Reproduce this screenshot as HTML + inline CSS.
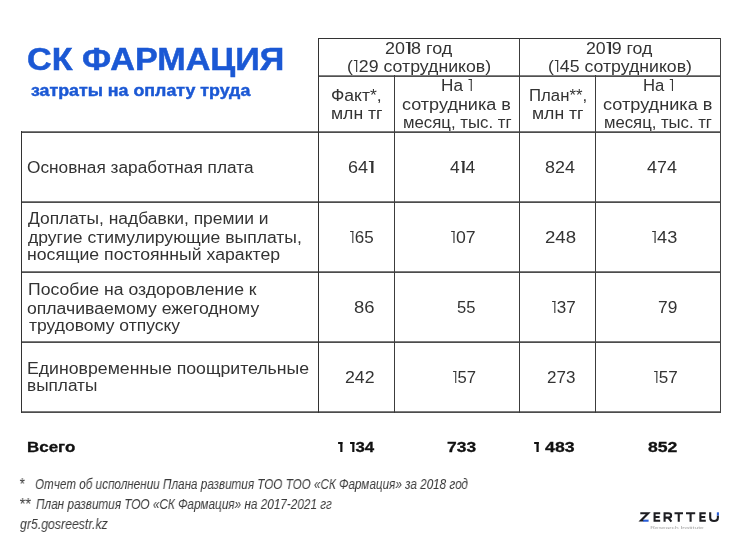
<!DOCTYPE html>
<html><head><meta charset="utf-8"><style>
html,body{margin:0;padding:0;background:#fff;width:740px;height:555px;overflow:hidden}
body{position:relative;font-family:"Liberation Sans",sans-serif}
.ln{position:absolute;background:#2b2b2b}
.t{position:absolute;white-space:pre;line-height:1;transform-origin:0 0;will-change:transform}
.logo{position:absolute;left:640px;top:510px;width:80px;height:22px}
</style></head><body>
<div class="ln" style="left:318px;top:38px;width:403px;height:1px;background:#333"></div><div class="ln" style="left:318px;top:75px;width:403px;height:1px;background:#808080"></div><div class="ln" style="left:318px;top:76px;width:403px;height:1px;background:#505050"></div><div class="ln" style="left:21px;top:131px;width:700px;height:1px;background:#7c7c7c"></div><div class="ln" style="left:21px;top:132px;width:700px;height:1px;background:#4c4c4c"></div><div class="ln" style="left:21px;top:201px;width:700px;height:1px;background:#7c7c7c"></div><div class="ln" style="left:21px;top:202px;width:700px;height:1px;background:#4c4c4c"></div><div class="ln" style="left:21px;top:271px;width:700px;height:1px;background:#7c7c7c"></div><div class="ln" style="left:21px;top:272px;width:700px;height:1px;background:#4c4c4c"></div><div class="ln" style="left:21px;top:341px;width:700px;height:1px;background:#7c7c7c"></div><div class="ln" style="left:21px;top:342px;width:700px;height:1px;background:#4c4c4c"></div><div class="ln" style="left:21px;top:411px;width:700px;height:1px;background:#7c7c7c"></div><div class="ln" style="left:21px;top:412px;width:700px;height:1px;background:#4c4c4c"></div><div class="ln" style="left:21px;top:131px;width:1px;height:282px;background:#333"></div><div class="ln" style="left:318px;top:38px;width:1px;height:375px;background:#333"></div><div class="ln" style="left:394px;top:75px;width:1px;height:338px;background:#3c3c3c"></div><div class="ln" style="left:519px;top:38px;width:1px;height:375px;background:#3c3c3c"></div><div class="ln" style="left:595px;top:75px;width:1px;height:338px;background:#3c3c3c"></div><div class="ln" style="left:720px;top:38px;width:1px;height:375px;background:#444"></div>
<div class="t" style="left:26.92px;top:43.50px;font-size:31.5px;font-weight:700;font-style:normal;color:#1b58d4;transform:scaleX(1.0838);-webkit-text-stroke:0.5px currentColor;">СК ФАРМАЦИЯ</div><div class="t" style="left:30.50px;top:81.80px;font-size:16.2px;font-weight:700;font-style:normal;color:#1b58d4;transform:scaleX(1.0995);-webkit-text-stroke:0.45px currentColor;">затраты на оплату труда</div><div class="t" style="left:384.85px;top:41.20px;font-size:15.6px;font-weight:400;font-style:normal;color:#333333;transform:scaleX(1.1509);">20<span style="display:inline-block;position:relative;width:5.25px;height:12px"><i style="position:absolute;left:1.07px;top:0;width:3.10px;height:1.2px;background:currentColor"></i><i style="position:absolute;left:2.67px;top:0;width:1.5px;height:12px;background:currentColor"></i></span>8 год</div><div class="t" style="left:346.86px;top:58.80px;font-size:15.6px;font-weight:400;font-style:normal;color:#333333;transform:scaleX(1.1360);">(<span style="display:inline-block;position:relative;width:5.25px;height:12px"><i style="position:absolute;left:1.07px;top:0;width:3.10px;height:1.2px;background:currentColor"></i><i style="position:absolute;left:2.67px;top:0;width:1.5px;height:12px;background:currentColor"></i></span>29 сотрудников)</div><div class="t" style="left:586.46px;top:41.20px;font-size:15.6px;font-weight:400;font-style:normal;color:#333333;transform:scaleX(1.1368);">20<span style="display:inline-block;position:relative;width:5.25px;height:12px"><i style="position:absolute;left:1.07px;top:0;width:3.10px;height:1.2px;background:currentColor"></i><i style="position:absolute;left:2.67px;top:0;width:1.5px;height:12px;background:currentColor"></i></span>9 год</div><div class="t" style="left:547.87px;top:58.80px;font-size:15.6px;font-weight:400;font-style:normal;color:#333333;transform:scaleX(1.1344);">(<span style="display:inline-block;position:relative;width:5.25px;height:12px"><i style="position:absolute;left:1.07px;top:0;width:3.10px;height:1.2px;background:currentColor"></i><i style="position:absolute;left:2.67px;top:0;width:1.5px;height:12px;background:currentColor"></i></span>45 сотрудников)</div><div class="t" style="left:331.07px;top:87.60px;font-size:15.6px;font-weight:400;font-style:normal;color:#333333;transform:scaleX(1.1256);">Факт*,</div><div class="t" style="left:330.57px;top:106.00px;font-size:15.6px;font-weight:400;font-style:normal;color:#333333;transform:scaleX(1.1295);">млн тг</div><div class="t" style="left:441.10px;top:77.90px;font-size:15.6px;font-weight:400;font-style:normal;color:#333333;transform:scaleX(1.1000);">На <span style="display:inline-block;position:relative;width:5.25px;height:12px"><i style="position:absolute;left:1.07px;top:0;width:3.10px;height:1.2px;background:currentColor"></i><i style="position:absolute;left:2.67px;top:0;width:1.5px;height:12px;background:currentColor"></i></span></div><div class="t" style="left:402.04px;top:96.80px;font-size:15.6px;font-weight:400;font-style:normal;color:#333333;transform:scaleX(1.1570);">сотрудника в</div><div class="t" style="left:402.72px;top:114.90px;font-size:15.6px;font-weight:400;font-style:normal;color:#333333;transform:scaleX(1.0760);">месяц, тыс. тг</div><div class="t" style="left:529.22px;top:87.90px;font-size:15.6px;font-weight:400;font-style:normal;color:#333333;transform:scaleX(1.0750);">План**,</div><div class="t" style="left:531.87px;top:106.20px;font-size:15.6px;font-weight:400;font-style:normal;color:#333333;transform:scaleX(1.1295);">млн тг</div><div class="t" style="left:642.73px;top:77.90px;font-size:15.6px;font-weight:400;font-style:normal;color:#333333;transform:scaleX(1.0704);">На <span style="display:inline-block;position:relative;width:5.25px;height:12px"><i style="position:absolute;left:1.07px;top:0;width:3.10px;height:1.2px;background:currentColor"></i><i style="position:absolute;left:2.67px;top:0;width:1.5px;height:12px;background:currentColor"></i></span></div><div class="t" style="left:603.14px;top:96.80px;font-size:15.6px;font-weight:400;font-style:normal;color:#333333;transform:scaleX(1.1624);">сотрудника в</div><div class="t" style="left:604.33px;top:114.90px;font-size:15.6px;font-weight:400;font-style:normal;color:#333333;transform:scaleX(1.0700);">месяц, тыс. тг</div><div class="t" style="left:27.09px;top:160.00px;font-size:15.6px;font-weight:400;font-style:normal;color:#333333;transform:scaleX(1.1064);">Основная заработная плата</div><div class="t" style="left:28.00px;top:211.20px;font-size:15.6px;font-weight:400;font-style:normal;color:#333333;transform:scaleX(1.1163);">Доплаты, надбавки, премии и</div><div class="t" style="left:28.00px;top:230.00px;font-size:15.6px;font-weight:400;font-style:normal;color:#333333;transform:scaleX(1.1260);">другие стимулирующие выплаты,</div><div class="t" style="left:26.87px;top:247.00px;font-size:15.6px;font-weight:400;font-style:normal;color:#333333;transform:scaleX(1.1324);">носящие постоянный характер</div><div class="t" style="left:27.77px;top:282.30px;font-size:15.6px;font-weight:400;font-style:normal;color:#333333;transform:scaleX(1.1313);">Пособие на оздоровление к</div><div class="t" style="left:27.37px;top:300.50px;font-size:15.6px;font-weight:400;font-style:normal;color:#333333;transform:scaleX(1.1293);">оплачиваемому ежегодному</div><div class="t" style="left:28.50px;top:318.00px;font-size:15.6px;font-weight:400;font-style:normal;color:#333333;transform:scaleX(1.1222);">трудовому отпуску</div><div class="t" style="left:27.37px;top:361.30px;font-size:15.6px;font-weight:400;font-style:normal;color:#333333;transform:scaleX(1.1340);">Единовременные поощрительные</div><div class="t" style="left:27.40px;top:377.50px;font-size:15.6px;font-weight:400;font-style:normal;color:#333333;transform:scaleX(1.1048);">выплаты</div><div class="t" style="left:347.74px;top:160.00px;font-size:15.6px;font-weight:400;font-style:normal;color:#333333;transform:scaleX(1.1571);">64<span style="display:inline-block;position:relative;width:5.25px;height:12px"><i style="position:absolute;left:1.07px;top:0;width:3.10px;height:1.2px;background:currentColor"></i><i style="position:absolute;left:2.67px;top:0;width:1.5px;height:12px;background:currentColor"></i></span></div><div class="t" style="left:450.30px;top:160.00px;font-size:15.6px;font-weight:400;font-style:normal;color:#333333;transform:scaleX(1.1182);">4<span style="display:inline-block;position:relative;width:5.25px;height:12px"><i style="position:absolute;left:1.07px;top:0;width:3.10px;height:1.2px;background:currentColor"></i><i style="position:absolute;left:2.67px;top:0;width:1.5px;height:12px;background:currentColor"></i></span>4</div><div class="t" style="left:545.05px;top:160.00px;font-size:15.6px;font-weight:400;font-style:normal;color:#333333;transform:scaleX(1.1480);">824</div><div class="t" style="left:647.00px;top:160.00px;font-size:15.6px;font-weight:400;font-style:normal;color:#333333;transform:scaleX(1.1462);">474</div><div class="t" style="left:349.21px;top:230.00px;font-size:15.6px;font-weight:400;font-style:normal;color:#333333;transform:scaleX(1.0905);"><span style="display:inline-block;position:relative;width:5.25px;height:12px"><i style="position:absolute;left:1.07px;top:0;width:3.10px;height:1.2px;background:currentColor"></i><i style="position:absolute;left:2.67px;top:0;width:1.5px;height:12px;background:currentColor"></i></span>65</div><div class="t" style="left:450.47px;top:230.00px;font-size:15.6px;font-weight:400;font-style:normal;color:#333333;transform:scaleX(1.1333);"><span style="display:inline-block;position:relative;width:5.25px;height:12px"><i style="position:absolute;left:1.07px;top:0;width:3.10px;height:1.2px;background:currentColor"></i><i style="position:absolute;left:2.67px;top:0;width:1.5px;height:12px;background:currentColor"></i></span>07</div><div class="t" style="left:545.00px;top:230.00px;font-size:15.6px;font-weight:400;font-style:normal;color:#333333;transform:scaleX(1.1958);">248</div><div class="t" style="left:651.24px;top:230.00px;font-size:15.6px;font-weight:400;font-style:normal;color:#333333;transform:scaleX(1.1619);"><span style="display:inline-block;position:relative;width:5.25px;height:12px"><i style="position:absolute;left:1.07px;top:0;width:3.10px;height:1.2px;background:currentColor"></i><i style="position:absolute;left:2.67px;top:0;width:1.5px;height:12px;background:currentColor"></i></span>43</div><div class="t" style="left:353.92px;top:300.00px;font-size:15.6px;font-weight:400;font-style:normal;color:#333333;transform:scaleX(1.1812);">86</div><div class="t" style="left:457.34px;top:300.00px;font-size:15.6px;font-weight:400;font-style:normal;color:#333333;transform:scaleX(1.0625);">55</div><div class="t" style="left:550.50px;top:300.00px;font-size:15.6px;font-weight:400;font-style:normal;color:#333333;transform:scaleX(1.0952);"><span style="display:inline-block;position:relative;width:5.25px;height:12px"><i style="position:absolute;left:1.07px;top:0;width:3.10px;height:1.2px;background:currentColor"></i><i style="position:absolute;left:2.67px;top:0;width:1.5px;height:12px;background:currentColor"></i></span>37</div><div class="t" style="left:658.09px;top:300.00px;font-size:15.6px;font-weight:400;font-style:normal;color:#333333;transform:scaleX(1.1125);">79</div><div class="t" style="left:345.06px;top:370.00px;font-size:15.6px;font-weight:400;font-style:normal;color:#333333;transform:scaleX(1.1375);">242</div><div class="t" style="left:451.93px;top:370.00px;font-size:15.6px;font-weight:400;font-style:normal;color:#333333;transform:scaleX(1.0667);"><span style="display:inline-block;position:relative;width:5.25px;height:12px"><i style="position:absolute;left:1.07px;top:0;width:3.10px;height:1.2px;background:currentColor"></i><i style="position:absolute;left:2.67px;top:0;width:1.5px;height:12px;background:currentColor"></i></span>57</div><div class="t" style="left:547.31px;top:370.00px;font-size:15.6px;font-weight:400;font-style:normal;color:#333333;transform:scaleX(1.0917);">273</div><div class="t" style="left:652.70px;top:370.00px;font-size:15.6px;font-weight:400;font-style:normal;color:#333333;transform:scaleX(1.0952);"><span style="display:inline-block;position:relative;width:5.25px;height:12px"><i style="position:absolute;left:1.07px;top:0;width:3.10px;height:1.2px;background:currentColor"></i><i style="position:absolute;left:2.67px;top:0;width:1.5px;height:12px;background:currentColor"></i></span>57</div><div class="t" style="left:27.31px;top:439.00px;font-size:15.5px;font-weight:700;font-style:normal;color:#111111;transform:scaleX(1.0930);-webkit-text-stroke:0.3px currentColor;">Всего</div><div class="t" style="left:336.61px;top:439.00px;font-size:15.5px;font-weight:700;font-style:normal;color:#111111;transform:scaleX(1.0879);-webkit-text-stroke:0.3px currentColor;"><span style="display:inline-block;position:relative;width:6.30px;height:10px"><i style="position:absolute;left:0.90px;top:0;width:4.50px;height:2.3px;background:currentColor"></i><i style="position:absolute;left:2.90px;top:0;width:2.5px;height:10px;background:currentColor"></i></span> <span style="display:inline-block;position:relative;width:6.30px;height:10px"><i style="position:absolute;left:0.90px;top:0;width:4.50px;height:2.3px;background:currentColor"></i><i style="position:absolute;left:2.90px;top:0;width:2.5px;height:10px;background:currentColor"></i></span>34</div><div class="t" style="left:447.27px;top:439.00px;font-size:15.5px;font-weight:700;font-style:normal;color:#111111;transform:scaleX(1.1250);-webkit-text-stroke:0.3px currentColor;">733</div><div class="t" style="left:533.46px;top:439.00px;font-size:15.5px;font-weight:700;font-style:normal;color:#111111;transform:scaleX(1.1429);-webkit-text-stroke:0.3px currentColor;"><span style="display:inline-block;position:relative;width:6.30px;height:10px"><i style="position:absolute;left:0.90px;top:0;width:4.50px;height:2.3px;background:currentColor"></i><i style="position:absolute;left:2.90px;top:0;width:2.5px;height:10px;background:currentColor"></i></span> 483</div><div class="t" style="left:648.40px;top:439.00px;font-size:15.5px;font-weight:700;font-style:normal;color:#111111;transform:scaleX(1.1360);-webkit-text-stroke:0.3px currentColor;">852</div><div class="t" style="left:19.43px;top:477.30px;font-size:16px;font-weight:400;font-style:italic;color:#3a3a3a;transform:scaleX(0.8667);">*</div><div class="t" style="left:34.98px;top:477.00px;font-size:14.3px;font-weight:400;font-style:italic;color:#3a3a3a;transform:scaleX(0.8186);">Отчет об исполнении Плана развития ТОО ТОО «СК Фармация» за 2018 год</div><div class="t" style="left:19.38px;top:497.00px;font-size:16px;font-weight:400;font-style:italic;color:#3a3a3a;transform:scaleX(0.9250);">**</div><div class="t" style="left:35.50px;top:496.50px;font-size:14.3px;font-weight:400;font-style:italic;color:#3a3a3a;transform:scaleX(0.8231);">План развития ТОО «СК Фармация» на 2017-2021 гг</div><div class="t" style="left:20.30px;top:516.50px;font-size:14.3px;font-weight:400;font-style:italic;color:#3a3a3a;transform:scaleX(0.8598);">gr5.gosreestr.kz</div>
<svg width="740" height="555" viewBox="0 0 740 555" style="position:absolute;left:0;top:0">
<g fill="none" stroke="#1e1e22" stroke-width="2.1" stroke-linecap="butt" stroke-linejoin="miter">
<path d="M660.2 513.2H654.6V520.8H660.2M654.6 517H659.6"/>
<path d="M664.6 521.7V513.2H668.4C672 513.2 672 517.6 668.4 517.6H664.6M668.2 517.6L671.4 521.7"/>
<path d="M674.5 513.2H683M678.75 513.2V521.7"/>
<path d="M686 513.2H695.2M690.6 513.2V521.7"/>
<path d="M705.8 513.2H700.4V520.8H705.8M700.4 517H705.2"/>
<path d="M710.2 512.3V517.5C710.2 522.2 717.9 522.2 717.9 517.5V515.5"/>
</g>
<path d="M643 520.7H648.6" stroke="#2a5ed8" stroke-width="2.1"/>
<path d="M717.9 512.3V515.5" stroke="#2a5ed8" stroke-width="2.1"/>
<path d="M640.3 513.2H648.2L641 520.5H643.2" fill="none" stroke="#1e1e22" stroke-width="2.1"/>
<text x="650.2" y="529.4" font-family="Liberation Sans" font-size="3.6" fill="#a0a0a0" style="-webkit-font-smoothing:antialiased" textLength="53.5" lengthAdjust="spacingAndGlyphs">Research Institute</text>
</svg>

</body></html>
